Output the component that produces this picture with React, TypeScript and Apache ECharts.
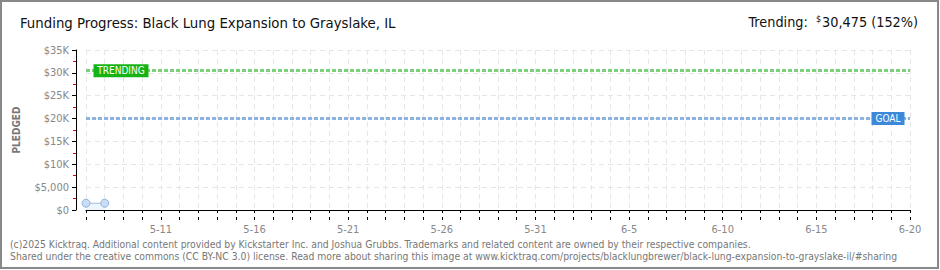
import React, { useEffect, useRef } from "react";
import * as echarts from "echarts";

const dates = [
  "5-7", "5-8", "5-9", "5-10", "5-11", "5-12", "5-13", "5-14", "5-15", "5-16",
  "5-17", "5-18", "5-19", "5-20", "5-21", "5-22", "5-23", "5-24", "5-25", "5-26",
  "5-27", "5-28", "5-29", "5-30", "5-31", "6-1", "6-2", "6-3", "6-4", "6-5",
  "6-6", "6-7", "6-8", "6-9", "6-10", "6-11", "6-12", "6-13", "6-14", "6-15",
  "6-16", "6-17", "6-18", "6-19", "6-20",
];
const labeledDates = ["5-11", "5-16", "5-21", "5-26", "5-31", "6-5", "6-10", "6-15", "6-20"];
const pledged: (number | null)[] = [1480, 1480];
const goal = 20000;
const trending = 30475;
const yMax = 35000;
const yStep = 5000;

const TITLE = "Funding Progress: Black Lung Expansion to Grayslake, IL";
const FOOT1 =
  "(c)2025 Kicktraq. Additional content provided by Kickstarter Inc. and Joshua Grubbs. Trademarks and related content are owned by their respective companies.";
const FOOT2 =
  "Shared under the creative commons (CC BY-NC 3.0) license. Read more about sharing this image at www.kicktraq.com/projects/blacklungbrewer/black-lung-expansion-to-grayslake-il/#sharing";

const FONT = "'DejaVu Sans Condensed', 'DejaVu Sans', sans-serif";

export default function App() {
  const ref = useRef<HTMLDivElement>(null);
  useEffect(() => {
    if (!ref.current) return;
    const chart = echarts.init(ref.current, null, { renderer: "svg" });
    const seriesData = dates.map((_, i) => (i < pledged.length ? pledged[i] : null));
    const tickLabel = {
      fontFamily: FONT,
      fontSize: 11,
      color: "#888",
    };
    chart.setOption({
      animation: false,
      backgroundColor: "#fff",
      grid: { left: 86, right: 30, top: 50, bottom: 60, containLabel: false },
      xAxis: [
        {
          type: "category",
          data: dates,
          boundaryGap: false,
          offset: 10,
          axisLine: { show: true, lineStyle: { color: "#000", width: 1 } },
          axisTick: { show: true, interval: 0, length: 3, lineStyle: { color: "#000" } },
          axisLabel: {
            ...tickLabel,
            interval: 0,
            margin: 4,
            formatter: (v: string) => (labeledDates.includes(v) ? v : ""),
          },
          splitLine: {
            show: true,
            interval: 0,
            lineStyle: { color: "#e6e6e6", type: [5, 4] },
          },
        },
        {
          type: "category",
          data: dates,
          boundaryGap: false,
          offset: 10,
          position: "bottom",
          axisLine: { show: false },
          axisTick: { show: true, inside: true, interval: 0, length: 3, lineStyle: { color: "#000" } },
          axisLabel: { show: false },
          splitLine: { show: false },
        },
      ],
      yAxis: {
        type: "value",
        min: 0,
        max: yMax,
        interval: yStep,
        offset: 10,
        name: "PLEDGED",
        nameLocation: "middle",
        nameGap: 55,
        nameRotate: 90,
        nameTextStyle: { fontFamily: FONT, fontSize: 10, color: "#777", fontWeight: "bold" },
        axisLine: { show: true, lineStyle: { color: "#000", width: 1 } },
        axisTick: { show: true, length: 4, lineStyle: { color: "#000" } },
        minorTick: { show: true, splitNumber: 2, length: 3, lineStyle: { color: "#e00" } },
        axisLabel: {
          ...tickLabel,
          margin: 7,
          formatter: (v: number) =>
            v === 0 ? "$0" : v < 10000 ? "$" + v.toLocaleString("en-US") : "$" + v / 1000 + "K",
        },
        splitLine: { show: true, lineStyle: { color: "#e6e6e6", type: [5, 4] } },
      },
      series: [
        {
          type: "line",
          data: seriesData,
          symbol: "circle",
          symbolSize: 8,
          showSymbol: true,
          lineStyle: { color: "#9dbfe6", width: 1 },
          itemStyle: { color: "#c9def5", borderColor: "#8fb3e0", borderWidth: 1 },
          areaStyle: { color: "rgba(205,225,247,0.5)" },
          markLine: {
            silent: true,
            symbol: "none",
            label: { show: false },
            data: [
              { yAxis: trending, lineStyle: { color: "#7dcf7d", type: [4, 2], width: 3 } },
              { yAxis: goal, lineStyle: { color: "#8fb3e0", type: [4, 2], width: 3 } },
            ],
          },
          markPoint: {
            silent: true,
            data: [
              {
                coord: [0, trending],
                symbol: "rect",
                symbolSize: [55, 13],
                symbolOffset: [35, 0],
                itemStyle: { color: "#16b316", borderRadius: 2 },
                label: {
                  show: true,
                  position: "inside",
                  formatter: "TRENDING",
                  color: "#fff",
                  fontFamily: FONT,
                  fontSize: 10,
                },
              },
              {
                coord: [dates.length - 1, goal],
                symbol: "rect",
                symbolSize: [33, 13],
                symbolOffset: [-22, 0],
                itemStyle: { color: "#3b89d8", borderRadius: 2 },
                label: {
                  show: true,
                  position: "inside",
                  formatter: "GOAL",
                  color: "#fff",
                  fontFamily: FONT,
                  fontSize: 10,
                },
              },
            ],
          },
        },
      ],
      graphic: [
        {
          type: "rect",
          shape: { x: 1, y: 1, width: 937, height: 267 },
          style: { fill: "none", stroke: "#888", lineWidth: 2 },
          silent: true,
        },
        {
          type: "text",
          left: 20,
          top: 15,
          style: { text: TITLE, fontFamily: FONT, fontSize: 14.8, fill: "#111" },
        },
        {
          type: "text",
          right: 22,
          top: 14,
          style: {
            text: "Trending:  {s|$}30,475 (152%)",
            fontFamily: FONT,
            fontSize: 14.3,
            fill: "#111",
            rich: {
              s: { fontSize: 9, verticalAlign: "top", fontFamily: FONT, fill: "#111", padding: [0, 1, 6, 0] },
            },
          },
        },
        {
          type: "text",
          left: 10,
          top: 239,
          style: { text: FOOT1, fontFamily: FONT, fontSize: 10.3, fill: "#777" },
        },
        {
          type: "text",
          left: 10,
          top: 251,
          style: { text: FOOT2, fontFamily: FONT, fontSize: 10.3, fill: "#777" },
        },
      ],
    });
    return () => chart.dispose();
  }, []);
  return (
    <div
      ref={ref}
      style={{ position: "fixed", left: 0, top: 0, width: 940, height: 270 }}
    />
  );
}
